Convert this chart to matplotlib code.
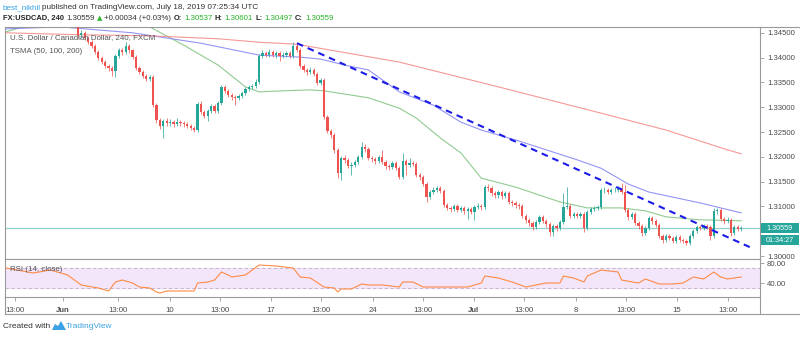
import matplotlib
matplotlib.use('Agg')
import matplotlib.pyplot as plt
from matplotlib.lines import Line2D
from matplotlib.patches import Rectangle, Polygon
import numpy as np

plt.rcParams['font.family'] = ['Liberation Sans', 'DejaVu Sans']

# ---------------- data ----------------
first_open = 1.3500
closes = [1.3505,1.3498,1.3502,1.3510,1.3507,1.3500,1.3495,1.3503,1.3508,1.3512,
          1.3504,1.3498,1.3490,1.3495,1.3502,1.3497,1.3488,1.3492,1.3485,1.3490,
          1.3483,1.3446,1.3450,1.3440,1.3431,1.3423,1.3411,1.3399,1.3391,1.3383,
          1.3379,1.3373,1.3403,1.3415,1.3411,1.3423,1.3415,1.3401,1.3379,1.3371,
          1.3363,1.3357,1.3361,1.3304,1.3274,1.3262,1.3272,1.3268,1.3270,1.3266,
          1.3270,1.3268,1.3266,1.3262,1.3258,1.3254,1.3306,1.3290,1.3282,1.3292,
          1.3302,1.3292,1.3308,1.3341,1.3333,1.3325,1.3321,1.3319,1.3323,1.3329,
          1.3337,1.3341,1.3343,1.3351,1.3403,1.3409,1.3405,1.3411,1.3405,1.3409,
          1.3403,1.3405,1.3409,1.3403,1.3423,1.3415,1.3383,1.3375,1.3371,1.3375,
          1.3367,1.3349,1.3355,1.3280,1.3252,1.3244,1.3214,1.3167,1.3198,1.3194,
          1.3181,1.3183,1.3190,1.3200,1.3220,1.3216,1.3198,1.3196,1.3192,1.3200,
          1.3190,1.3181,1.3179,1.3188,1.3177,1.3159,1.3192,1.3183,1.3188,1.3185,
          1.3163,1.3159,1.3145,1.3119,1.3129,1.3133,1.3137,1.3131,1.3103,1.3097,
          1.3095,1.3101,1.3093,1.3097,1.3091,1.3095,1.3089,1.3099,1.3101,1.3099,
          1.3139,1.3137,1.3127,1.3123,1.3129,1.3121,1.3127,1.3109,1.3107,1.3103,
          1.3101,1.3081,1.3073,1.3067,1.3058,1.3069,1.3079,1.3071,1.3065,1.3048,
          1.3060,1.3056,1.3069,1.3099,1.3101,1.3081,1.3085,1.3081,1.3085,1.3056,
          1.3089,1.3095,1.3097,1.3099,1.3133,1.3134,1.3129,1.3133,1.3134,1.3135,
          1.3129,1.3093,1.3079,1.3085,1.3067,1.3060,1.3046,1.3056,1.3077,1.3071,
          1.3063,1.3040,1.3032,1.3040,1.3036,1.3030,1.3038,1.3032,1.3030,1.3026,
          1.3040,1.3050,1.3058,1.3056,1.3060,1.3058,1.3040,1.3091,1.3093,1.3075,
          1.3071,1.3073,1.3046,1.3058,1.30537,1.30559]
highs = [1.3510,1.3509,1.3506,1.3514,1.3515,1.3510,1.3504,1.3507,1.3512,1.3516,
         1.3515,1.3507,1.3501,1.3499,1.3506,1.3505,1.3500,1.3496,1.3495,1.3494,
         1.3493,1.3486,1.3456,1.3454,1.3444,1.3436,1.3427,1.3415,1.3403,1.3395,
         1.3387,1.3383,1.3407,1.3419,1.3420,1.3431,1.3427,1.3418,1.3405,1.3383,
         1.3375,1.3367,1.3365,1.3365,1.3308,1.3278,1.3276,1.3278,1.3276,1.3274,
         1.3278,1.3274,1.3272,1.3270,1.3266,1.3262,1.3310,1.3312,1.3294,1.3296,
         1.3306,1.3306,1.3312,1.3345,1.3345,1.3337,1.3329,1.3325,1.3327,1.3333,
         1.3341,1.3345,1.3347,1.3357,1.3407,1.3415,1.3413,1.3417,1.3415,1.3413,
         1.3413,1.3411,1.3413,1.3413,1.3431,1.3429,1.3419,1.3387,1.3379,1.3381,
         1.3379,1.3371,1.3359,1.3359,1.3284,1.3256,1.3248,1.3218,1.3202,1.3204,
         1.3198,1.3189,1.3194,1.3204,1.3230,1.3226,1.3220,1.3202,1.3200,1.3204,
         1.3214,1.3194,1.3185,1.3192,1.3192,1.3181,1.3208,1.3196,1.3198,1.3192,
         1.3189,1.3167,1.3163,1.3149,1.3133,1.3139,1.3141,1.3141,1.3135,1.3107,
         1.3101,1.3105,1.3105,1.3101,1.3101,1.3099,1.3099,1.3103,1.3107,1.3105,
         1.3143,1.3145,1.3141,1.3131,1.3133,1.3133,1.3131,1.3131,1.3113,1.3111,
         1.3107,1.3105,1.3085,1.3077,1.3071,1.3073,1.3083,1.3083,1.3075,1.3069,
         1.3064,1.3064,1.3073,1.3127,1.3139,1.3105,1.3089,1.3089,1.3089,1.3089,
         1.3093,1.3099,1.3101,1.3103,1.3137,1.3139,1.3138,1.3137,1.3139,1.3141,
         1.3147,1.3143,1.3097,1.3089,1.3089,1.3071,1.3064,1.3060,1.3081,1.3081,
         1.3075,1.3067,1.3044,1.3044,1.3044,1.3040,1.3042,1.3042,1.3036,1.3034,
         1.3044,1.3054,1.3062,1.3062,1.3064,1.3064,1.3062,1.3097,1.3097,1.3097,
         1.3079,1.3079,1.3077,1.3062,1.3062,1.30601]
lows = [1.3496,1.3494,1.3495,1.3499,1.3503,1.3496,1.3491,1.3492,1.3500,1.3505,
        1.3500,1.3494,1.3486,1.3487,1.3492,1.3493,1.3484,1.3485,1.3481,1.3482,
        1.3479,1.3440,1.3440,1.3436,1.3427,1.3419,1.3407,1.3395,1.3387,1.3379,
        1.3374,1.3363,1.3361,1.3399,1.3406,1.3408,1.3410,1.3397,1.3375,1.3367,
        1.3359,1.3353,1.3353,1.3300,1.3268,1.3256,1.3238,1.3262,1.3262,1.3260,
        1.3262,1.3262,1.3260,1.3258,1.3254,1.3250,1.3250,1.3286,1.3278,1.3272,
        1.3288,1.3288,1.3288,1.3304,1.3329,1.3321,1.3315,1.3305,1.3315,1.3319,
        1.3325,1.3333,1.3337,1.3339,1.3347,1.3399,1.3401,1.3401,1.3401,1.3399,
        1.3393,1.3399,1.3401,1.3399,1.3399,1.3411,1.3379,1.3371,1.3365,1.3367,
        1.3363,1.3345,1.3345,1.3276,1.3248,1.3238,1.3208,1.3157,1.3153,1.3188,
        1.3177,1.3163,1.3179,1.3186,1.3196,1.3210,1.3194,1.3190,1.3186,1.3188,
        1.3186,1.3175,1.3173,1.3175,1.3173,1.3155,1.3155,1.3163,1.3179,1.3181,
        1.3159,1.3153,1.3141,1.3109,1.3115,1.3125,1.3129,1.3127,1.3099,1.3093,
        1.3089,1.3091,1.3089,1.3089,1.3085,1.3075,1.3085,1.3073,1.3095,1.3093,
        1.3095,1.3131,1.3121,1.3117,1.3117,1.3115,1.3117,1.3105,1.3101,1.3097,
        1.3095,1.3077,1.3067,1.3061,1.3052,1.3054,1.3065,1.3067,1.3059,1.3040,
        1.3040,1.3050,1.3052,1.3065,1.3095,1.3077,1.3077,1.3077,1.3077,1.3048,
        1.3052,1.3085,1.3091,1.3093,1.3095,1.3127,1.3125,1.3125,1.3129,1.3129,
        1.3125,1.3089,1.3073,1.3075,1.3063,1.3054,1.3040,1.3042,1.3052,1.3065,
        1.3059,1.3036,1.3026,1.3028,1.3032,1.3026,1.3026,1.3028,1.3026,1.3022,
        1.3022,1.3036,1.3046,1.3052,1.3052,1.3054,1.3032,1.3036,1.3085,1.3071,
        1.3065,1.3067,1.3040,1.3042,1.3050,1.30497]
opens = [first_open] + closes[:-1]

sma50_idx = [0,4,10,22,33,42,52,62,70,74,81,89,93,106,115,120,127,133,139,149,162,170,180,187,193,203,215]
sma50_val = [1.3452,1.3460,1.3468,1.3472,1.3470,1.3462,1.3425,1.3385,1.3341,1.3331,1.3333,1.3335,1.3333,
             1.3319,1.3298,1.3278,1.3238,1.3208,1.3157,1.3139,1.3109,1.3097,1.3097,1.3091,1.3079,1.3073,1.3071]
sma100_idx = [0,16,37,57,74,86,92,99,106,115,125,133,139,149,158,167,174,182,188,203,215]
sma100_val = [1.3458,1.3462,1.3450,1.3429,1.3405,1.3401,1.3397,1.3385,1.3375,1.3331,1.3304,1.3270,
              1.3254,1.3234,1.3214,1.3194,1.3177,1.3145,1.3129,1.3107,1.3087]
sma200_idx = [0,22,42,62,74,85,115,144,174,193,211,215]
sma200_val = [1.3450,1.3446,1.3444,1.3438,1.3431,1.3427,1.3391,1.3341,1.3288,1.3254,1.3214,1.3206]

trend_idx = [85.1, 217.5]
trend_val = [1.3429, 1.3018]

rsi_idx = [0,8,13,18,22,27,30,32,34,37,39,42,44,45,47,55,56,59,61,63,65,66,70,74,79,84,86,89,93,96,
           97,98,101,104,106,110,115,116,119,122,129,135,139,140,144,148,152,158,162,163,166,169,170,
           174,179,180,185,187,191,195,198,201,204,207,209,211,215]
rsi_val = [70,60,66,56,36,30,24,42,46,40,32,30,22,20,24,24,40,42,46,62,56,52,56,76,74,70,52,50,32,30,
           22,28,28,38,36,36,32,42,42,32,32,32,40,54,50,42,32,40,40,54,50,42,54,66,62,46,40,48,38,38,
           40,52,48,62,52,48,52]

xtick_pos = [2.6, 16.7, 32.7, 48, 62.6, 77.5, 92, 107.3, 122, 136.8, 151.5, 166.7, 181.3, 196.2, 211]
xtick_lab = ['13:00', 'Jun', '13:00', '10', '13:00', '17', '13:00', '24', '13:00', 'Jul',
             '13:00', '8', '13:00', '15', '13:00']
# 1.30500 is hidden behind the last-price label in the reference
price_ticks = [1.300, 1.310, 1.315, 1.320, 1.325, 1.330, 1.335, 1.340, 1.345]
last_price = 1.30559

# ---------------- styles ----------------
UP = '#26A69A'
DN = '#EF5350'
FRAME = '#9A9A9A'
TXT = '#4A4A4A'

W, H = 800, 337
fig = plt.figure(figsize=(8, 3.37), dpi=100)

def fx(px):
    return px / W

def fy(py):
    return 1 - py / H

ax = fig.add_axes([fx(5), fy(259), fx(760) - fx(5), fy(27) - fy(259)])
axr = fig.add_axes([fx(5), fy(297), fx(760) - fx(5), fy(259) - fy(297)], sharex=ax)

o = np.array(opens); c = np.array(closes); h = np.array(highs); l = np.array(lows)
idx = np.arange(len(c))
cols = [UP if cc >= oo else DN for oo, cc in zip(o, c)]
ax.vlines(idx, l, h, colors=cols, linewidth=0.7, alpha=0.75, zorder=3)
ax.bar(idx, np.maximum(np.abs(c - o), 0.00004), bottom=np.minimum(o, c), width=0.66,
       color=cols, linewidth=0, zorder=4)

ax.plot(sma50_idx, sma50_val, color='#7DC27D', lw=0.8, alpha=0.85, zorder=2)
ax.plot(sma100_idx, sma100_val, color='#8888F5', lw=0.8, alpha=0.9, zorder=2)
ax.plot(sma200_idx, sma200_val, color='#F58C8C', lw=0.8, alpha=0.9, zorder=2)
ax.plot(trend_idx, trend_val, color='#1C1CE6', lw=1.5, dashes=(3.2, 2.4), zorder=5)
ax.axhline(last_price, color=UP, lw=0.9, ls=(0, (0.8, 0.8)), zorder=1)

ax.set_xlim(-0.3, 220.5)
ax.set_ylim(1.2994, 1.34617)
ax.yaxis.tick_right()
ax.set_yticks(price_ticks)
ax.set_yticklabels(['%.5f' % p for p in price_ticks])
ax.tick_params(axis='y', which='both', right=True, left=False, length=3, width=0.6,
               color=FRAME, labelsize=5.6, labelcolor=TXT, pad=2)
ax.tick_params(axis='x', bottom=False, labelbottom=False)
for s in ax.spines.values():
    s.set_color(FRAME)
    s.set_linewidth(0.8)

ax.text(0.007, 0.955, 'U.S. Dollar / Canadian Dollar, 240, FXCM', transform=ax.transAxes,
        fontsize=5.7, color='#555555', va='center', ha='left', zorder=6)
ax.text(0.007, 0.895, 'TSMA (50, 100, 200)', transform=ax.transAxes,
        fontsize=5.7, color='#555555', va='center', ha='left', zorder=6)

# RSI panel
axr.axhspan(30, 70, color='#F3E6FB', zorder=0)
axr.axhline(70, color='#C0AFC4', lw=0.6, ls=(0, (4, 3)))
axr.axhline(30, color='#C0AFC4', lw=0.6, ls=(0, (4, 3)))
axr.plot(rsi_idx, rsi_val, color='#FF8A45', lw=0.8, zorder=3)
axr.set_ylim(12, 88)
axr.yaxis.tick_right()
axr.set_yticks([40, 80])
axr.set_yticklabels(['40.00', '80.00'])
axr.tick_params(axis='y', right=True, left=False, length=3, width=0.6, color=FRAME,
                labelsize=5.6, labelcolor=TXT, pad=2)
axr.set_xticks(xtick_pos)
axr.set_xticklabels(xtick_lab)
axr.tick_params(axis='x', length=3, width=0.6, color=FRAME, labelsize=5.6, labelcolor=TXT, pad=4)
for t in axr.get_xticklabels():
    if t.get_text() in ('Jun', 'Jul'):
        t.set_fontweight('bold')
for s in axr.spines.values():
    s.set_color(FRAME)
    s.set_linewidth(0.8)
axr.text(0.007, 0.73, 'RSI (14, close)', transform=axr.transAxes, fontsize=5.7,
         color='#555555', va='center', ha='left')

# outer frame lines
fig.add_artist(Line2D([fx(5), fx(5)], [fy(297), fy(314)], transform=fig.transFigure, color=FRAME, lw=0.8))
fig.add_artist(Line2D([fx(760), fx(760)], [fy(297), fy(314)], transform=fig.transFigure, color=FRAME, lw=0.8))
fig.add_artist(Line2D([fx(5), fx(800)], [fy(314), fy(314)], transform=fig.transFigure, color=FRAME, lw=0.8))
fig.add_artist(Line2D([fx(760), fx(800)], [fy(27), fy(27)], transform=fig.transFigure, color=FRAME, lw=0.8))

# price label boxes
fig.canvas.draw()
renderer = fig.canvas.get_renderer()
ydisp = ax.transData.transform((0, last_price))[1]
ypx = H - ydisp
fig.add_artist(Rectangle((fx(761), fy(ypx + 5)), fx(38), 10 / H, transform=fig.transFigure,
                         facecolor=UP, edgecolor='none'))
fig.text(fx(780), fy(ypx), '1.30559', color='white', fontsize=5.2, ha='center', va='center')
fig.add_artist(Rectangle((fx(761), fy(ypx + 17)), fx(38), 10 / H, transform=fig.transFigure,
                         facecolor=UP, edgecolor='none'))
fig.text(fx(780), fy(ypx + 12), '01:34:27', color='white', fontsize=5.2, ha='center', va='center')


def seq(x0, ypos, parts, gap=2.0):
    x = x0
    for txt, col, weight, size, fam in parts:
        kw = dict(color=col, fontsize=size, va='center', fontweight=weight)
        if fam:
            kw['family'] = fam
        t = fig.text(fx(x), ypos, txt, **kw)
        bb = t.get_window_extent(renderer)
        x = bb.x1 + gap


# header
fs = 5.7
GR = '#27B327'
seq(3, fy(7.5), [('best_nikhil', '#3BA3E3', 'normal', 5.9, None),
                 ('published on TradingView.com, July 18, 2019 07:25:34 UTC', '#333333', 'normal', 5.9, None)],
    gap=1.5)
seq(3, fy(18), [('FX:USDCAD, 240', '#222222', 'bold', 5.4, None),
                ('1.30559', '#333333', 'normal', fs, None),
                ('\u25B2', '#2DB82D', 'normal', 5.0, 'DejaVu Sans'),
                ('+0.00034 (+0.03%)', '#333333', 'normal', fs, None),
                ('O:', '#222222', 'bold', 5.4, None),
                ('1.30537', GR, 'normal', fs, None),
                ('H:', '#222222', 'bold', 5.4, None),
                ('1.30601', GR, 'normal', fs, None),
                ('L:', '#222222', 'bold', 5.4, None),
                ('1.30497', GR, 'normal', fs, None),
                ('C:', '#222222', 'bold', 5.4, None),
                ('1.30559', GR, 'normal', fs, None)], gap=2.2)

# footer
fig.text(fx(3), fy(326), 'Created with', color='#333333', fontsize=6.0, va='center')
fig.add_artist(Polygon([[fx(52), fy(330)], [fx(55), fy(324)], [fx(58), fy(326)], [fx(61), fy(321)],
                        [fx(66), fy(330)]], closed=True, transform=fig.transFigure,
                       facecolor='#3BA3E3', edgecolor='none'))
fig.text(fx(66), fy(326), 'TradingView', color='#3BA3E3', fontsize=6.0, va='center')

fig.savefig('out.png', dpi=100, facecolor='white')
